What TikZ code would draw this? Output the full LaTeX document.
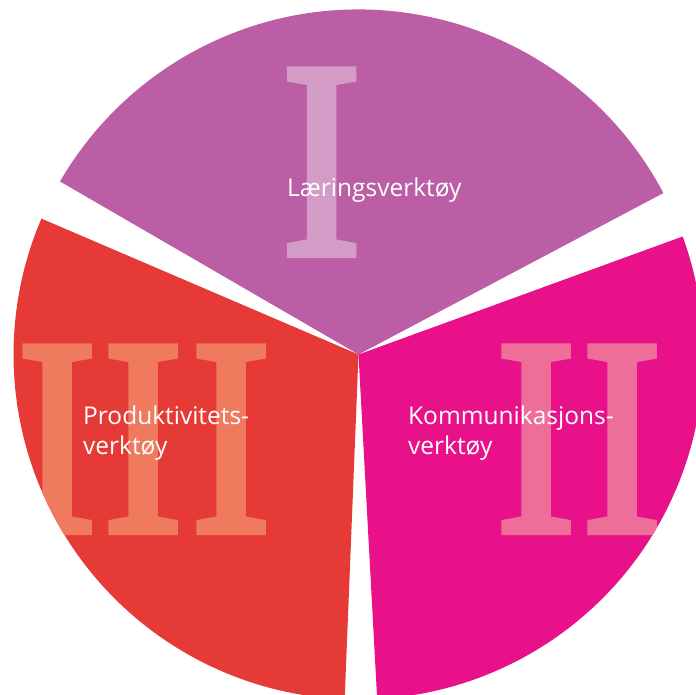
\documentclass[tikz,border=0pt]{standalone}
\usepackage{fontspec}
\setmainfont{Open Sans}
\newfontfamily\numfont[FakeBold=3]{Liberation Serif}
\definecolor{secP}{HTML}{BC5EA5}
\definecolor{secR}{HTML}{E63A37}
\definecolor{secK}{HTML}{E8118A}
\definecolor{numP}{HTML}{D39CC6}
\definecolor{numR}{HTML}{EF7A5D}
\definecolor{numK}{HTML}{EC6E99}
\newcommand\sectorpath[2]{(c) -- ++(#1:345) arc[start angle=#1, end angle=#2, radius=345] -- cycle}
\tikzset{
  numeral/.style={inner sep=0pt, anchor=base, font=\numfont\fontsize{280}{280}\selectfont},
  label/.style={inner sep=0pt, anchor=base west, text=white, align=left,
    font=\fontsize{24.5}{30}\selectfont}
}
\begin{document}
\begin{tikzpicture}[x=1pt,y=1pt]
\useasboundingbox (0,0) rectangle (696,695);
\coordinate (c) at (358.5,340.5);
% sectors
\fill[secP] \sectorpath{27.9}{149.9};
\fill[secR] \sectorpath{156.8}{267.7};
\fill[secK] \sectorpath{-86.9}{20};
% numerals
\begin{scope}
  \clip \sectorpath{27.9}{149.9};
  \node[numeral, text=numP] (numI) at (321.5,441) {\scalebox{0.85}[1]{I}};
\end{scope}
\begin{scope}
  \clip \sectorpath{156.8}{267.7};
  \node[numeral, text=numR] (numIIIa) at (57,164) {\scalebox{0.85}[1]{I}};
  \node[numeral, text=numR] (numIIIb) at (143,164) {\scalebox{0.85}[1]{I}};
  \node[numeral, text=numR] (numIIIc) at (231,164) {\scalebox{0.85}[1]{I}};
\end{scope}
\begin{scope}
  \clip \sectorpath{-86.9}{20};
  \node[numeral, text=numK] (numIIa) at (536,164) {\scalebox{0.85}[1]{I}};
  \node[numeral, text=numK] (numIIb) at (622,164) {\scalebox{0.85}[1]{I}};
\end{scope}
% labels
\node[label] (laer) at (287,498) {Læringsverktøy};
\node[label] (prod) at (83,240) {Produktivitets-\\verktøy};
\node[label] (komm) at (408,240) {Kommunikasjons-\\verktøy};
\end{tikzpicture}
\end{document}
